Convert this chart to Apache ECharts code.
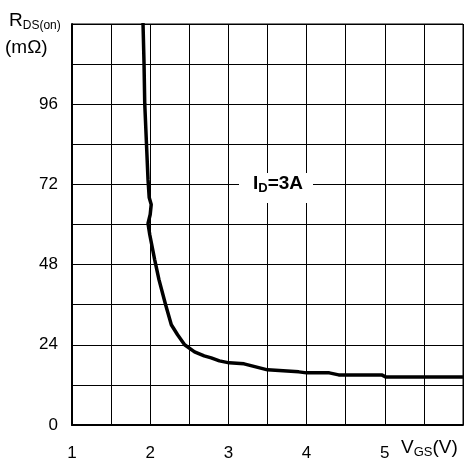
<!DOCTYPE html>
<html lang="en">
<head>
    <meta charset="UTF-8">
    <title>RDS(on) vs VGS</title>
    <style>
        body { margin: 0; background: #fff; }
    </style>
</head>
<body>
    <div id="card" style="width: 466px;height:466px;"></div>
    <script src="https://cdn.jsdelivr.net/npm/echarts@6/dist/echarts.min.js"></script>
    <script>
        // curve: VGS (V) / RDS(on) (mΩ)
        var vgs = [1.908, 1.921, 1.930, 1.952, 1.972, 1.987, 2.013, 2.000, 1.972, 1.994, 2.057, 2.112, 2.197, 2.270, 2.350, 2.440, 2.567, 2.690, 2.780, 2.885, 3.010, 3.200, 3.500, 3.900, 4.000, 4.290, 4.410, 4.960, 5.010, 6.000];
        var rds = [120.3, 108.3, 96.3, 84.3, 73.5, 68.1, 66.0, 63.0, 60.3, 57.0, 49.5, 43.5, 36.0, 30.0, 27.0, 24.0, 21.9, 20.7, 20.1, 19.2, 18.6, 18.3, 16.5, 15.9, 15.6, 15.6, 15.0, 15.0, 14.4, 14.4];
        var xLabels = [1, 2, 3, 4, 5];
        var yLabels = [0, 24, 48, 72, 96];

        var points = [];
        for (var i = 0; i < vgs.length; i++) {
            points.push([vgs[i], rds[i]]);
        }

        var font = 'Liberation Sans, Arial, sans-serif';

        var option = {
            backgroundColor: '#fff',
            animation: false,
            grid: {
                left: 72, right: 2, top: 24, bottom: 41,
                show: true, borderColor: '#000', borderWidth: 1
            },
            xAxis: {
                type: 'value', min: 1, max: 6, interval: 0.5,
                axisLine: { lineStyle: { color: '#000', width: 2 } },
                axisTick: { show: false },
                splitLine: { lineStyle: { color: '#000', width: 1 } },
                axisLabel: {
                    margin: 20, color: '#000', fontSize: 17, fontFamily: font,
                    formatter: function (v) { return xLabels.indexOf(v) >= 0 ? String(v) : ''; }
                }
            },
            yAxis: {
                type: 'value', min: 0, max: 120, interval: 12,
                axisLine: { show: true, lineStyle: { color: '#000', width: 2 } },
                axisTick: { show: false },
                splitLine: { lineStyle: { color: '#000', width: 1 } },
                axisLabel: {
                    margin: 14, color: '#000', fontSize: 17, fontFamily: font,
                    formatter: function (v) { return yLabels.indexOf(v) >= 0 ? String(v) : ''; }
                }
            },
            graphic: [
                {
                    type: 'text', left: 9, top: 11, z: 100,
                    style: {
                        text: '{a|R}{b|DS(on)}', fontFamily: font,
                        rich: {
                            a: { fontSize: 19, fill: '#000', fontFamily: font },
                            b: { fontSize: 12, fill: '#000', fontFamily: font, padding: [10, 0, 0, 0] }
                        }
                    }
                },
                {
                    type: 'text', left: 5, top: 38, z: 100,
                    style: { text: '(mΩ)', fontSize: 19, fill: '#000', fontFamily: font }
                },
                {
                    type: 'text', left: 401, top: 438, z: 100,
                    style: {
                        text: '{a|V}{b|GS}{a|(V)}', fontFamily: font,
                        rich: {
                            a: { fontSize: 19, fill: '#000', fontFamily: font },
                            b: { fontSize: 13, fill: '#000', fontFamily: font, padding: [10, 0, 0, 0] }
                        }
                    }
                },
                {
                    type: 'rect', shape: { x: 239, y: 173, width: 74, height: 30 }, z: 99,
                    style: { fill: '#fff' }
                },
                {
                    type: 'text', left: 253, top: 174, z: 100,
                    style: {
                        text: '{a|I}{b|D}{a|=3A}', fontFamily: font,
                        rich: {
                            a: { fontSize: 19, fontWeight: 'bold', fill: '#000', fontFamily: font },
                            b: { fontSize: 13, fontWeight: 'bold', fill: '#000', fontFamily: font, padding: [9, 0, 0, 0] }
                        }
                    }
                }
            ],
            series: [{
                type: 'line',
                data: points,
                symbol: 'none',
                smooth: false,
                lineStyle: { color: '#000', width: 3.5 },
                z: 10
            }]
        };

        var myChart = echarts.init(document.getElementById('card'));
        myChart.setOption(option);
    </script>
</body>
</html>
